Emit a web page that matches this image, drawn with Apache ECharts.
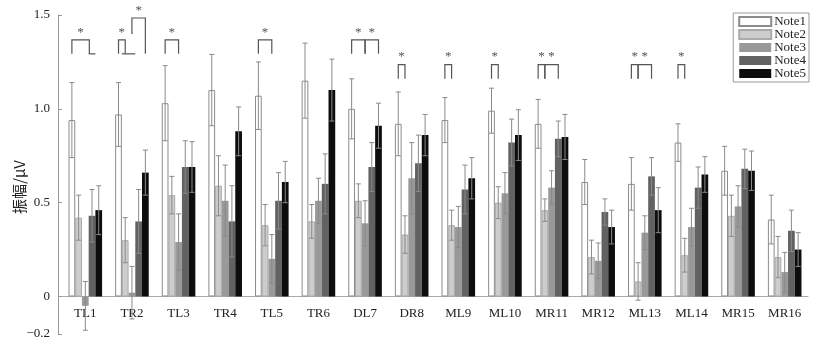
<!DOCTYPE html>
<html>
<head>
<meta charset="utf-8">
<script src="https://cdn.jsdelivr.net/npm/echarts@6/dist/echarts.min.js"></script>
<style>
  html, body { margin: 0; padding: 0; background: #fff; }
  #chart { width: 814px; height: 341px; }
</style>
</head>
<body>
<div id="chart"></div>
<script>
var categories = ['TL1', 'TR2', 'TL3', 'TR4', 'TL5', 'TR6', 'DL7', 'DR8', 'ML9', 'ML10', 'MR11', 'MR12', 'ML13', 'ML14', 'MR15', 'MR16'];
var noteNames = ['Note1', 'Note2', 'Note3', 'Note4', 'Note5'];

// 各条件均值
var note1 = [0.94, 0.97, 1.03, 1.10, 1.07, 1.15, 1.00, 0.92, 0.94, 0.99, 0.92, 0.61, 0.60, 0.82, 0.67, 0.41];
var note2 = [0.42, 0.30, 0.54, 0.59, 0.38, 0.40, 0.51, 0.33, 0.38, 0.50, 0.46, 0.21, 0.08, 0.22, 0.43, 0.21];
var note3 = [-0.05, 0.02, 0.29, 0.51, 0.20, 0.51, 0.39, 0.63, 0.37, 0.55, 0.58, 0.19, 0.34, 0.37, 0.48, 0.13];
var note4 = [0.43, 0.40, 0.69, 0.40, 0.51, 0.60, 0.69, 0.71, 0.57, 0.82, 0.84, 0.45, 0.64, 0.58, 0.68, 0.35];
var note5 = [0.46, 0.66, 0.69, 0.88, 0.61, 1.10, 0.91, 0.86, 0.63, 0.86, 0.85, 0.37, 0.46, 0.65, 0.67, 0.25];

// 误差
var err1 = [0.20, 0.17, 0.20, 0.19, 0.18, 0.20, 0.16, 0.17, 0.12, 0.12, 0.13, 0.12, 0.14, 0.10, 0.13, 0.13];
var err2 = [0.12, 0.12, 0.10, 0.16, 0.11, 0.09, 0.09, 0.10, 0.08, 0.085, 0.06, 0.09, 0.10, 0.09, 0.11, 0.11];
var err3 = [0.13, 0.14, 0.15, 0.19, 0.13, 0.12, 0.12, 0.19, 0.11, 0.11, 0.09, 0.095, 0.09, 0.10, 0.11, 0.105];
var err4 = [0.14, 0.17, 0.14, 0.19, 0.15, 0.16, 0.13, 0.15, 0.13, 0.125, 0.095, 0.07, 0.10, 0.11, 0.105, 0.11];
var err5 = [0.13, 0.12, 0.135, 0.13, 0.11, 0.165, 0.12, 0.11, 0.11, 0.135, 0.12, 0.09, 0.12, 0.095, 0.105, 0.09];

var yTicks = [-0.2, 0, 0.5, 1.0, 1.5];

// 显著性标记: [类别, 起始柱, 结束柱, 顶部, 左腿底, 右腿底]
var sigBrackets = [
    [0, 0, 2.6, 1.367, 1.293, 1.293],
    [1, 0, 1, 1.367, 1.293, 1.293],
    [1, 2, 4, 1.484, 1.399, 1.293],
    [2, 0, 2, 1.367, 1.293, 1.293],
    [4, 0, 2, 1.367, 1.293, 1.293],
    [6, 0, 2, 1.367, 1.293, 1.293],
    [6, 2, 4, 1.367, 1.293, 1.293],
    [7, 0, 1, 1.236, 1.16, 1.16],
    [8, 0, 1, 1.236, 1.16, 1.16],
    [9, 0, 1, 1.236, 1.16, 1.16],
    [10, 0, 1, 1.236, 1.16, 1.16],
    [10, 1, 3, 1.236, 1.16, 1.16],
    [12, 0, 1, 1.236, 1.16, 1.16],
    [12, 1, 3, 1.236, 1.16, 1.16],
    [13, 0, 1, 1.236, 1.16, 1.16]
];
// 底部短横线: [类别, 起始柱, 结束柱, 高度]
var sigFeet = [
    [0, 2.5, 3.5, 1.293],
    [1, 0.5, 2.5, 1.293]
];

var means = [note1, note2, note3, note4, note5];
var errs = [err1, err2, err3, err4, err5];
var colors = ['#ffffff', '#cdcdcd', '#999999', '#626262', '#0d0d0d'];
var serif = '"Liberation Serif", "Times New Roman", serif';
var catGap = 0.28;

var gridTop = 15, gridBottom = 7, chartH = 341;
var yMin = -0.2, yMax = 1.5;
// 横轴放在 0 处
var zeroOffset = (chartH - gridTop - gridBottom) * (0 - yMin) / (yMax - yMin);

var myChart = echarts.init(document.getElementById('chart'));

function barX(api, cat, note) {
    var c = api.coord([cat, 0])[0];
    var band = api.size([1, 0])[0];
    var bw = band * (1 - catGap) / 5;
    return c + (note - 2) * bw;
}

var errRows = [];
for (var n = 0; n < 5; n++) {
    for (var i = 0; i < categories.length; i++) {
        errRows.push([i, n, means[n][i], errs[n][i]]);
    }
}

var series = noteNames.map(function (name, n) {
    return {
        name: name,
        type: 'bar',
        data: means[n],
        barGap: 0,
        barCategoryGap: (catGap * 100) + '%',
        itemStyle: {
            color: colors[n],
            borderColor: n === 0 ? '#8c8c8c' : (n === 1 ? '#aaaaaa' : colors[n]),
            borderWidth: n <= 1 ? 1 : 0
        },
        emphasis: { disabled: true }
    };
});

series.push({
    type: 'custom',
    data: errRows,
    z: 5,
    silent: true,
    clip: false,
    renderItem: function (params, api) {
        var cat = api.value(0), note = api.value(1), m = api.value(2), e = api.value(3);
        var x = barX(api, cat, note);
        var yTop = api.coord([cat, m + e])[1];
        var yBot = api.coord([cat, m - e])[1];
        var cap = 2.5;
        var st = { stroke: '#8a8a8a', lineWidth: 1 };
        return {
            type: 'group',
            children: [
                { type: 'line', shape: { x1: x, y1: yTop, x2: x, y2: yBot }, style: st },
                { type: 'line', shape: { x1: x - cap, y1: yTop, x2: x + cap, y2: yTop }, style: st },
                { type: 'line', shape: { x1: x - cap, y1: yBot, x2: x + cap, y2: yBot }, style: st }
            ]
        };
    }
});

series.push({
    type: 'custom',
    data: sigBrackets,
    z: 5,
    silent: true,
    clip: false,
    renderItem: function (params, api) {
        var cat = api.value(0);
        var xa = barX(api, cat, api.value(1));
        var xb = barX(api, cat, api.value(2));
        var yt = api.coord([cat, api.value(3)])[1];
        var ya = api.coord([cat, api.value(4)])[1];
        var yb = api.coord([cat, api.value(5)])[1];
        return {
            type: 'group',
            children: [
                {
                    type: 'polyline',
                    shape: { points: [[xa, ya], [xa, yt], [xb, yt], [xb, yb]] },
                    style: { stroke: '#555', lineWidth: 1.2, fill: null }
                },
                {
                    type: 'text',
                    style: {
                        text: '*', x: (xa + xb) / 2, y: yt - 1,
                        align: 'center', verticalAlign: 'bottom',
                        fill: '#555', font: '13px ' + serif
                    }
                }
            ]
        };
    }
});

series.push({
    type: 'custom',
    data: sigFeet,
    z: 5,
    silent: true,
    clip: false,
    renderItem: function (params, api) {
        var cat = api.value(0);
        var xa = barX(api, cat, api.value(1));
        var xb = barX(api, cat, api.value(2));
        var y = api.coord([cat, api.value(3)])[1];
        return {
            type: 'line',
            shape: { x1: xa, y1: y, x2: xb, y2: y },
            style: { stroke: '#555', lineWidth: 1.2 }
        };
    }
});

option = {
    backgroundColor: '#ffffff',
    animation: false,
    grid: { left: 62, right: 6, top: gridTop, bottom: gridBottom, containLabel: false, outerBoundsMode: 'none' },
    graphic: [{
        type: 'text',
        x: 19,
        y: 187,
        rotation: Math.PI / 2,
        style: {
            text: '振幅/μV',
            align: 'center',
            verticalAlign: 'middle',
            fill: '#222',
            font: '15px "Noto Sans CJK SC", ' + serif
        }
    }],
    legend: {
        data: noteNames,
        orient: 'vertical',
        right: 5,
        top: 13,
        itemWidth: 32,
        itemHeight: 9,
        itemGap: 0,
        padding: [2, 3, 2, 5],
        borderColor: '#999',
        borderWidth: 1,
        backgroundColor: '#fff',
        icon: 'rect',
        selectedMode: false,
        textStyle: { fontFamily: serif, fontSize: 13, lineHeight: 13, color: '#222', padding: [0, 0, 0, -2] }
    },
    xAxis: {
        type: 'category',
        data: categories,
        position: 'bottom',
        offset: -zeroOffset,
        axisLine: { onZero: false, lineStyle: { color: '#aaa', width: 1 } },
        axisTick: { alignWithLabel: true, length: 4, lineStyle: { color: '#888' } },
        axisLabel: { fontFamily: serif, fontSize: 13, color: '#222', margin: 11, hideOverlap: false }
    },
    yAxis: {
        type: 'value',
        min: yMin,
        max: yMax,
        offset: 4,
        axisLine: { show: true, lineStyle: { color: '#999', width: 1 } },
        axisTick: { show: true, inside: true, length: 4, customValues: yTicks, lineStyle: { color: '#999' } },
        splitLine: { show: false },
        axisLabel: {
            customValues: yTicks,
            fontFamily: serif,
            fontSize: 13,
            color: '#222',
            margin: 8,
            formatter: function (v) {
                if (Math.abs(v) < 1e-9) return '0';
                return v < 0 ? '\u2212' + Math.abs(v).toFixed(1) : v.toFixed(1);
            }
        }
    },
    series: series
};

myChart.setOption(option);
</script>
</body>
</html>
